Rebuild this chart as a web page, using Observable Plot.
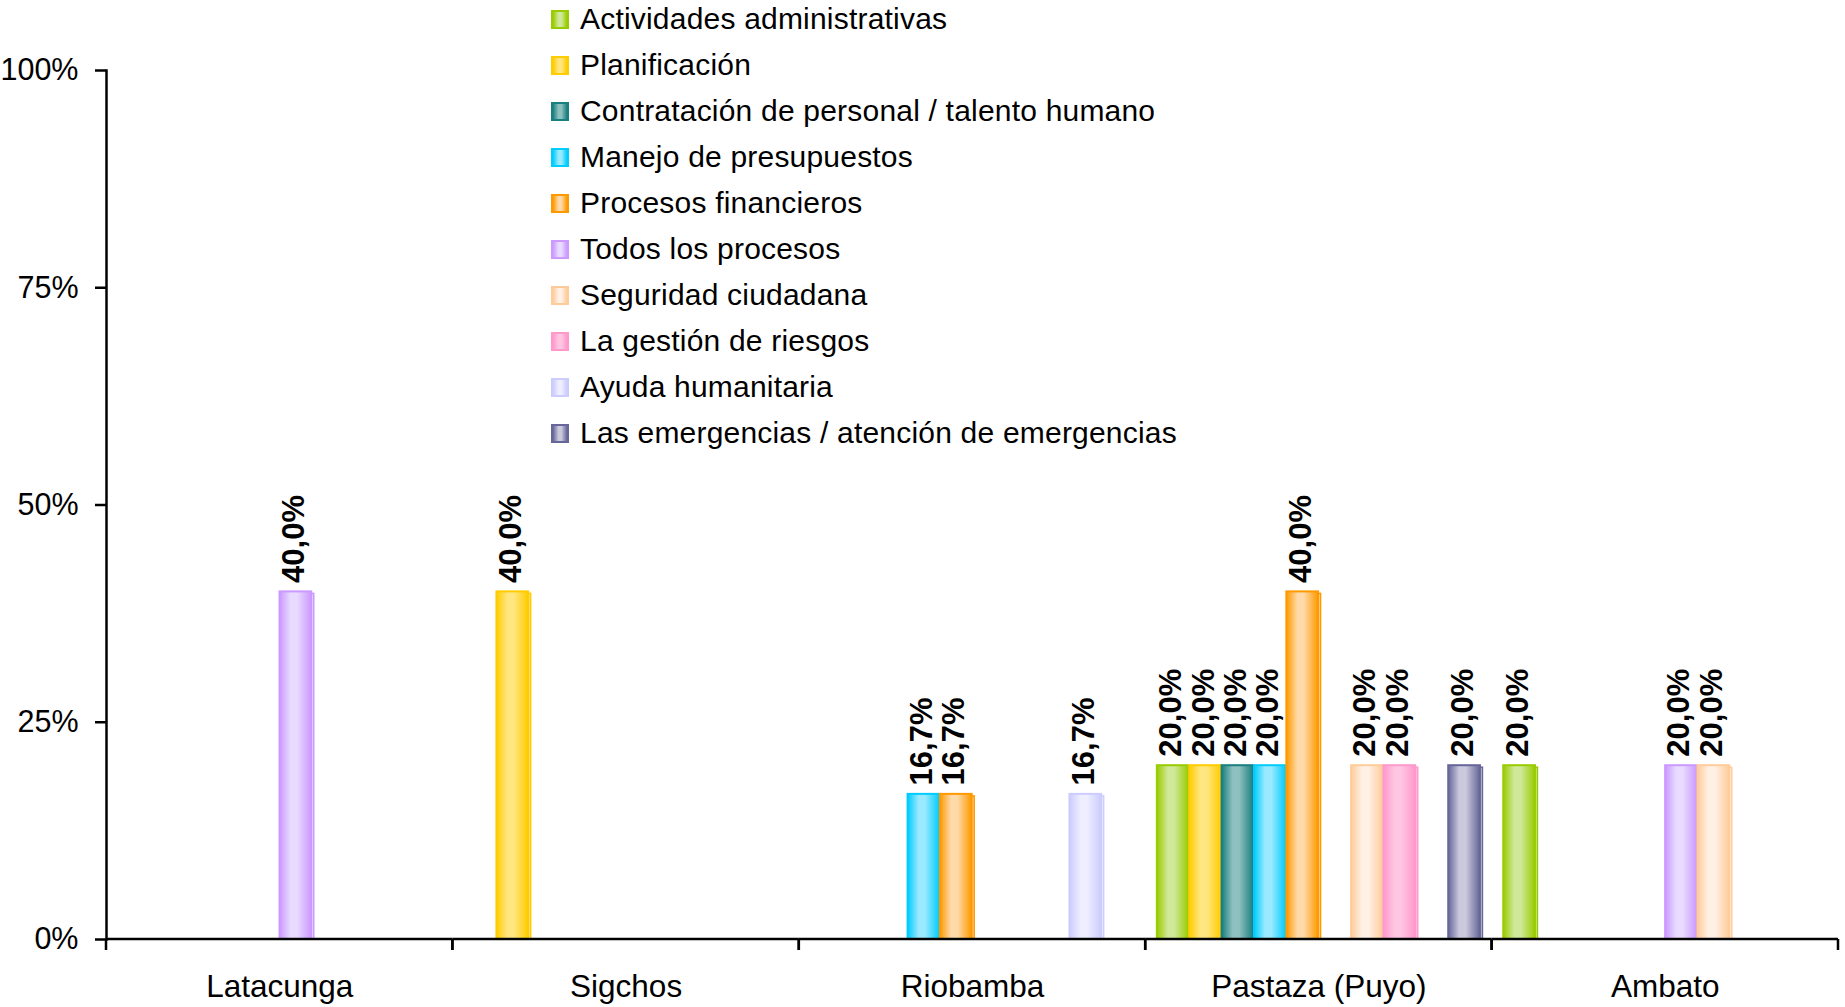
<!DOCTYPE html>
<html>
<head>
<meta charset="utf-8">
<script src="https://cdn.jsdelivr.net/npm/d3@7"></script>
<script src="https://cdn.jsdelivr.net/npm/@observablehq/plot@0.6"></script>
<style>
  html, body { margin: 0; padding: 0; background: #fff; }
  #wrap { position: relative; width: 1845px; height: 1007px; font-family: "Liberation Sans", Arial, sans-serif; }
  #legend { position: absolute; left: 551px; top: -4px; }
  .row { display: flex; align-items: center; height: 46px; font-size: 30px; line-height: 46px; color: #000; white-space: nowrap; letter-spacing: 0.2px; }
  .sw { width: 14px; height: 15px; margin-right: 11px; border: 2px solid; }
</style>
</head>
<body>
<div id="wrap"><div id="legend"></div></div>
<script>
const groups = ["Latacunga", "Sigchos", "Riobamba", "Pastaza (Puyo)", "Ambato"];
const series = [
  "Actividades administrativas",
  "Planificación",
  "Contratación de personal / talento humano",
  "Manejo de presupuestos",
  "Procesos financieros",
  "Todos los procesos",
  "Seguridad ciudadana",
  "La gestión de riesgos",
  "Ayuda humanitaria",
  "Las emergencias / atención de emergencias"
];
// values per group, in series order
const latacunga = [0, 0, 0, 0, 0, 0.40, 0, 0, 0, 0];
const sigchos   = [0, 0.40, 0, 0, 0, 0, 0, 0, 0, 0];
const riobamba  = [0, 0, 0, 0.167, 0.167, 0, 0, 0, 0.167, 0];
const pastaza   = [0.20, 0.20, 0.20, 0.20, 0.40, 0, 0.20, 0.20, 0, 0.20];
const ambato    = [0.20, 0, 0, 0, 0, 0.20, 0.20, 0, 0, 0];
const yTicks = [0, 0.25, 0.5, 0.75, 1];

const edgeColors  = ["#99cc00", "#ffcc00", "#1a7f7f", "#00ccff", "#ff9900", "#cc99ff", "#ffcc99", "#ff99cc", "#ccccff", "#666699"];
const lightColors = ["#d0e89a", "#ffe680", "#8fc0c0", "#99eaff", "#ffdaa8", "#e8dbff", "#fff0e6", "#ffc6e3", "#eeeeff", "#cacadc"];

const byGroup = [latacunga, sigchos, riobamba, pastaza, ambato];
const data = [];
groups.forEach((g, gi) => byGroup[gi].forEach((v, si) => {
  if (v > 0) data.push({group: g, series: series[si], si, value: v});
}));

const fmt = d3.formatLocale({decimal: ",", thousands: ".", grouping: [3], currency: ["", ""]}).format(".1%");
const font = "Liberation Sans, Arial, sans-serif";

const backMarks = series.map((s, i) =>
  Plot.barY(data.filter(d => d.si === i), {
    fx: "group", x: "series", y: "value",
    fill: lightColors[i], stroke: edgeColors[i], strokeWidth: 1.5,
    insetLeft: 0, insetRight: 0, insetBottom: 2, dx: 2.5, dy: 2
  })
);
const barMarks = series.map((s, i) =>
  Plot.barY(data.filter(d => d.si === i), {
    fx: "group", x: "series", y: "value",
    fill: `url(#grad${i})`, stroke: edgeColors[i], strokeWidth: 2,
    insetLeft: 0, insetRight: 0
  })
);

const chart = Plot.plot({
  width: 1845,
  height: 1007,
  marginTop: 70,
  marginBottom: 68,
  marginLeft: 106,
  marginRight: 7,
  style: {fontFamily: font, fontSize: "30px", color: "#000", background: "transparent"},
  fx: {domain: groups, paddingInner: 0, paddingOuter: 0, round: false},
  x: {domain: series, paddingInner: 0.02, paddingOuter: 0.36, round: false, axis: null},
  y: {domain: [0, 1]},
  marks: [
    ...backMarks,
    ...barMarks,
    Plot.text(data, {
      fx: "group", x: "series", y: "value",
      text: d => fmt(d.value), rotate: -90, textAnchor: "start",
      fontWeight: "bold", fontSize: 31, dy: -9, dx: -2, fill: "#000"
    }),
    Plot.frame({
      render: (index, scales, values, dims) => {
        const y0 = scales.y(0);
        const x0 = dims.marginLeft, x1 = dims.width - dims.marginRight;
        return d3.create("svg:path")
          .attr("d", `M${x0},${y0}H${x1}M${x0},${y0}v11M${x1},${y0}v11`)
          .attr("stroke", "#000").attr("stroke-width", 2.5).attr("fill", "none")
          .node();
      }
    }),
    Plot.frame({anchor: "left", facetAnchor: "left", stroke: "#000", strokeWidth: 2.5}),
    Plot.axisY({ticks: yTicks, tickFormat: d3.format(".0%"), tickSize: 11, tickPadding: 17,
      strokeWidth: 2.5, fontSize: 30.5, label: null}),
    Plot.axisFx({anchor: "bottom", tickSize: 0, tickPadding: 35, fontSize: 31.5, label: null})
  ]
});

// gradient definitions for the cylinder-like bars
const svg = d3.select(chart.tagName.toLowerCase() === "svg" ? chart : chart.querySelector("svg"));
const defs = svg.insert("defs", ":first-child");
edgeColors.forEach((c, i) => {
  const lg = defs.append("linearGradient").attr("id", `grad${i}`).attr("x1", "0").attr("x2", "1").attr("y1", "0").attr("y2", "0");
  lg.append("stop").attr("offset", "0%").attr("stop-color", c);
  lg.append("stop").attr("offset", "35%").attr("stop-color", lightColors[i]);
  lg.append("stop").attr("offset", "55%").attr("stop-color", lightColors[i]);
  lg.append("stop").attr("offset", "100%").attr("stop-color", c);
});

document.getElementById("wrap").insertBefore(chart, document.getElementById("legend"));

const legend = d3.select("#legend");
series.forEach((s, i) => {
  const row = legend.append("div").attr("class", "row");
  row.append("div").attr("class", "sw")
    .style("border-color", edgeColors[i])
    .style("background", `linear-gradient(to right, ${edgeColors[i]} 0%, ${lightColors[i]} 40%, ${lightColors[i]} 60%, ${edgeColors[i]} 100%)`);
  row.append("span").text(s);
});
</script>
</body>
</html>
